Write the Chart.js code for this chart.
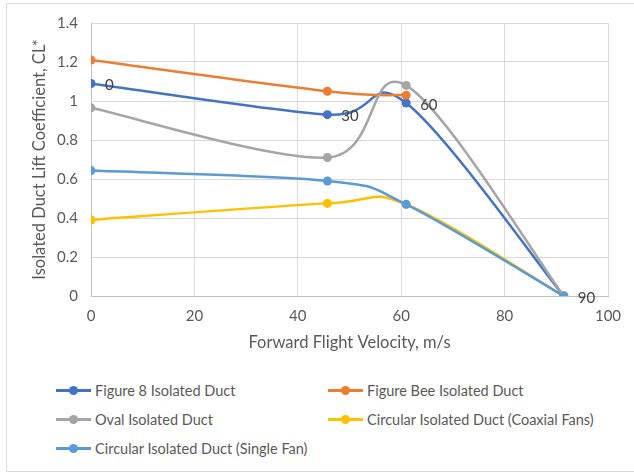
<!DOCTYPE html>
<html>
<head>
<meta charset="utf-8">
<script src="https://cdn.jsdelivr.net/npm/chart.js@4/dist/chart.umd.min.js"></script>
<style>
  html, body { margin: 0; padding: 0; background: #fff; }
  #frame { position: relative; width: 634px; height: 472px; background: #fff; overflow: hidden; }
  #border { position: absolute; left: 6px; top: 3px; width: 660px; height: 469px; border: 1px solid #d9d9d9; box-sizing: border-box; }
  #chartBox { position: absolute; left: 0; top: 0; width: 634px; height: 364px; }
  #legend { position: absolute; left: 56px; top: 380px; width: 570px; font-family: "Lato", sans-serif; font-size: 14.5px; color: #595959; display: grid; grid-template-columns: 272px 290px; row-gap: 9px; }
  .item { display: flex; align-items: center; height: 20px; white-space: nowrap; }
  .sym { position: relative; flex: 0 0 35px; width: 35px; height: 10px; margin-right: 4px; }
  .sym .ln { position: absolute; left: 0; right: 0; top: 4px; height: 2.5px; }
  .sym .dot { position: absolute; left: 13px; top: 0.5px; width: 9px; height: 9px; border-radius: 50%; }
</style>
</head>
<body>
<div id="frame">
  <div id="border"></div>
  <div id="chartBox"><canvas id="c" width="634" height="364"></canvas></div>
  <div id="legend"></div>
</div>
<script>
// Forward flight velocity (m/s) for each test point
const velocity = [0, 45.72, 60.96, 91.44];
// Speed labels shown beside the Figure 8 points
const pointLabels = ['0', '30', '60', '90'];

const seriesNames = [
  'Figure 8 Isolated Duct',
  'Figure Bee Isolated Duct',
  'Oval Isolated Duct',
  'Circular Isolated Duct (Coaxial Fans)',
  'Circular Isolated Duct (Single Fan)'
];
const figure8 = [1.09, 0.93, 0.99, 0];
const figureBee = [1.21, 1.05, 1.03];
const oval = [0.965, 0.71, 1.08, 0];
const circularCoaxial = [0.39, 0.475, 0.47, 0];
const circularSingle = [0.643, 0.59, 0.47, 0];

const seriesColors = ['#4472C4', '#ED7D31', '#A5A5A5', '#FFC000', '#5B9BD5'];
const seriesValues = [figure8, figureBee, oval, circularCoaxial, circularSingle];

const toPoints = vals => vals.map((v, i) => ({ x: velocity[i], y: v }));

const datasets = seriesValues.map((vals, i) => ({
  label: seriesNames[i],
  data: toPoints(vals),
  borderColor: seriesColors[i],
  backgroundColor: seriesColors[i],
  borderWidth: 2.5,
  pointRadius: 4.5,
  pointHoverRadius: 4.5,
  pointBorderWidth: 0,
  showLine: true,
  tension: 0.4,
  order: seriesValues.length - i
}));

// Smooth each line as a uniform Catmull-Rom spline (control points at 1/6 of the neighbour chord)
const catmullRom = {
  id: 'catmullRom',
  beforeDatasetsDraw(chart) {
    chart.data.datasets.forEach((ds, di) => {
      const meta = chart.getDatasetMeta(di);
      const line = meta.dataset;
      if (!line) return;
      line.updateControlPoints(chart.chartArea, meta.indexAxis);
      const pts = meta.data;
      for (let i = 0; i < pts.length; i++) {
        const p1 = pts[i];
        const p0 = pts[Math.max(i - 1, 0)];
        const p2 = pts[Math.min(i + 1, pts.length - 1)];
        const dx = (p2.x - p0.x) / 6, dy = (p2.y - p0.y) / 6;
        p1.cp1x = p1.x - dx; p1.cp1y = p1.y - dy;
        p1.cp2x = p1.x + dx; p1.cp2y = p1.y + dy;
      }
      line._path = undefined;
    });
  }
};

// Writes the speed labels to the right of the Figure 8 markers
const speedLabels = {
  id: 'speedLabels',
  afterDatasetsDraw(chart) {
    const meta = chart.getDatasetMeta(0);
    const ctx = chart.ctx;
    ctx.save();
    ctx.font = '15px "Lato", sans-serif';
    ctx.fillStyle = '#404040';
    ctx.textAlign = 'left';
    ctx.textBaseline = 'middle';
    meta.data.forEach((pt, i) => {
      ctx.fillText(pointLabels[i], pt.x + 14, pt.y + 2);
    });
    ctx.restore();
  }
};

const tickFont = { family: '"Lato", sans-serif', size: 15 };
const titleFont = { family: '"Lato", sans-serif', size: 16.5 };

new Chart(document.getElementById('c'), {
  type: 'scatter',
  data: { datasets },
  options: {
    responsive: false,
    animation: false,
    layout: { padding: { left: 30, right: 26, top: 23, bottom: 11 } },
    plugins: { legend: { display: false }, tooltip: { enabled: false } },
    scales: {
      x: {
        type: 'linear', min: 0, max: 100,
        ticks: { stepSize: 20, color: '#595959', font: tickFont, padding: 11 },
        grid: { color: '#d9d9d9', lineWidth: 1, drawTicks: false },
        border: { color: '#bfbfbf' },
        title: { display: true, text: 'Forward Flight Velocity, m/s', color: '#595959',
                 font: titleFont, padding: { top: 0, bottom: 0 } },
        afterFit: s => { s.height = 57; }
      },
      y: {
        type: 'linear', min: 0, max: 1.4,
        ticks: { stepSize: 0.2, color: '#595959', font: tickFont, padding: 13,
                 callback: v => String(Number(v.toFixed(1))) },
        grid: { color: '#d9d9d9', lineWidth: 1, drawTicks: false },
        border: { color: '#bfbfbf' },
        title: { display: true, text: 'Isolated Duct Lift Coefficient, CL*', color: '#595959',
                 font: titleFont, padding: { top: 0, bottom: 0 } },
        afterFit: s => { s.width = 61; }
      }
    }
  },
  plugins: [catmullRom, speedLabels]
});

// Legend laid out in two columns below the plot
const legend = document.getElementById('legend');
seriesNames.forEach((name, i) => {
  const item = document.createElement('div');
  item.className = 'item';
  item.innerHTML = '<span class="sym"><span class="ln" style="background:' + seriesColors[i] +
    '"></span><span class="dot" style="background:' + seriesColors[i] + '"></span></span>' + name;
  legend.appendChild(item);
});
</script>
</body>
</html>
